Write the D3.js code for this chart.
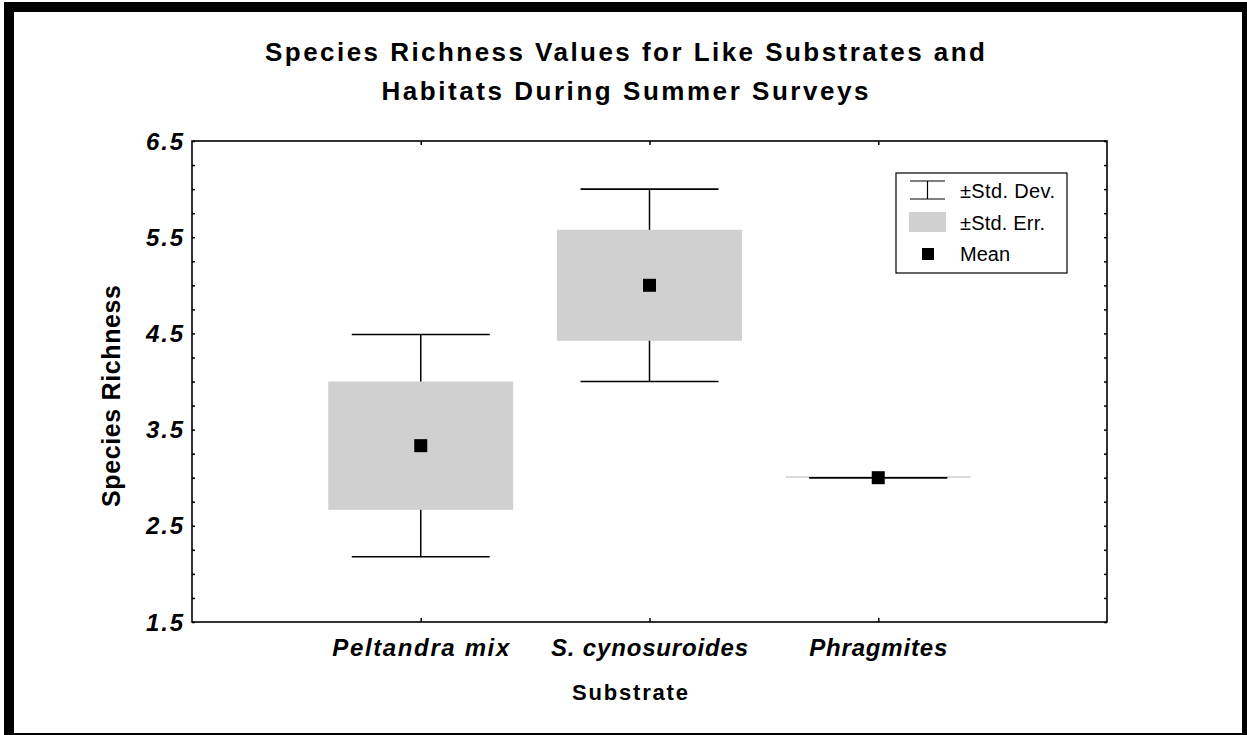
<!DOCTYPE html>
<html>
<head>
<meta charset="utf-8">
<script src="https://cdn.jsdelivr.net/npm/d3@7"></script>
<style>
  html, body { margin: 0; padding: 0; background: white; }
  svg { display: block; font-family: "Liberation Sans", Arial, sans-serif; }
</style>
</head>
<body>
<div id="chart"></div>
<script>
const categories = ["Peltandra mix", "S. cynosuroides", "Phragmites"];
const means = [3.333, 5.0, 3.0];
const stdErrs = [0.667, 0.577, 0];
const stdDevs = [1.155, 1.0, 0];
const yTickLabels = [1.5, 2.5, 3.5, 4.5, 5.5, 6.5];
const yMinorTicks = d3.range(1.5, 6.51, 0.25);
const titleLines = ["Species Richness Values for Like Substrates and", "Habitats During Summer Surveys"];
const legendItems = ["\u00b1Std. Dev.", "\u00b1Std. Err.", "Mean"];

const width = 1247;
const height = 735;
const plot = { left: 192, right: 1107, top: 141, bottom: 622 };
const boxWidth = 185;
const capWidth = 138;
const markSize = 13;
const grey = "#d0d0d0";

const rows = categories.map((c, i) => ({
  category: c, mean: means[i], se: stdErrs[i], sd: stdDevs[i]
}));

const x = d3.scalePoint(categories, [plot.left, plot.right]).padding(1);
const y = d3.scaleLinear([1.5, 6.5], [plot.bottom, plot.top]);

const svg = d3.select("#chart").append("svg")
  .attr("width", width)
  .attr("height", height);

// page frame with heavy black edge
const frame = selection => {
  selection.append("rect")
    .attr("x", 4).attr("y", 2)
    .attr("width", width - 4).attr("height", height - 2)
    .attr("fill", "black");
  selection.append("rect")
    .attr("x", 14).attr("y", 12)
    .attr("width", 1228).attr("height", 721)
    .attr("fill", "white");
}

const title = selection => {
  selection.selectAll(".title")
    .data(titleLines)
    .join("text")
    .attr("class", "title")
    .attr("x", 625)
    .attr("y", (d, i) => 61 + i * 39)
    .attr("text-anchor", "middle")
    .attr("font-size", 26)
    .attr("font-weight", "bold")
    .attr("textLength", (d, i) => [720, 487][i])
    .attr("lengthAdjust", "spacing")
    .text(d => d);
}

const boxes = selection => {
  let g = selection.selectAll(".box")
    .data(rows)
    .join("g")
    .attr("class", "box")
    .attr("transform", d => `translate(${x(d.category)},0)`);
  // standard deviation whiskers
  g.append("line")
    .attr("x1", 0).attr("x2", 0)
    .attr("y1", d => y(d.mean + d.sd))
    .attr("y2", d => y(d.mean - d.sd))
    .attr("stroke", "black").attr("stroke-width", 1.5);
  // standard error box, kept visible as a thin bar when se is 0
  g.append("rect")
    .attr("x", -boxWidth / 2)
    .attr("width", boxWidth)
    .attr("y", d => Math.min(y(d.mean + d.se), y(d.mean) - 1.5))
    .attr("height", d => Math.max(1.5, y(d.mean - d.se) - y(d.mean + d.se)))
    .attr("fill", grey);
  g.selectAll(".cap")
    .data(d => [d.mean + d.sd, d.mean - d.sd])
    .join("line")
    .attr("class", "cap")
    .attr("x1", -capWidth / 2).attr("x2", capWidth / 2)
    .attr("y1", v => y(v)).attr("y2", v => y(v))
    .attr("stroke", "black").attr("stroke-width", 1.6);
  g.append("rect")
    .attr("x", -markSize / 2)
    .attr("y", d => y(d.mean) - markSize / 2)
    .attr("width", markSize)
    .attr("height", markSize)
    .attr("fill", "black");
}

const axes = selection => {
  selection.append("g")
    .attr("transform", `translate(${plot.left},0)`)
    .call(d3.axisLeft(y).tickValues(yMinorTicks).tickSize(-3).tickFormat(""))
    .call(g => g.select(".domain").remove());
  selection.append("g")
    .attr("transform", `translate(${plot.right},0)`)
    .call(d3.axisRight(y).tickValues(yMinorTicks).tickSize(-3).tickFormat(""))
    .call(g => g.select(".domain").remove());
  selection.append("g")
    .attr("transform", `translate(0,${plot.bottom})`)
    .call(d3.axisBottom(x).tickSize(-4).tickFormat(""))
    .call(g => g.select(".domain").remove());
  selection.append("g")
    .attr("transform", `translate(0,${plot.top})`)
    .call(d3.axisTop(x).tickSize(-4).tickFormat(""))
    .call(g => g.select(".domain").remove());
  selection.selectAll(".tick line").attr("stroke-width", 1.5);

  selection.append("rect")
    .attr("x", plot.left).attr("y", plot.top)
    .attr("width", plot.right - plot.left)
    .attr("height", plot.bottom - plot.top)
    .attr("fill", "none")
    .attr("stroke", "black")
    .attr("stroke-width", 1.6);

  selection.selectAll(".y-label")
    .data(yTickLabels)
    .join("text")
    .attr("class", "y-label")
    .attr("x", 183)
    .attr("y", d => y(d) + 8.5)
    .attr("text-anchor", "end")
    .attr("font-size", 24)
    .attr("font-weight", "bold")
    .attr("font-style", "italic")
    .attr("textLength", 37)
    .attr("lengthAdjust", "spacing")
    .text(d3.format(".1f"));

  selection.selectAll(".x-label")
    .data(categories)
    .join("text")
    .attr("class", "x-label")
    .attr("x", d => x(d))
    .attr("y", 656)
    .attr("text-anchor", "middle")
    .attr("font-size", 24)
    .attr("font-weight", "bold")
    .attr("font-style", "italic")
    .attr("textLength", (d, i) => [177, 197, 138][i])
    .attr("lengthAdjust", "spacing")
    .text(d => d);

  selection.append("text")
    .attr("x", 630).attr("y", 700)
    .attr("text-anchor", "middle")
    .attr("font-size", 22)
    .attr("font-weight", "bold")
    .attr("textLength", 116)
    .attr("lengthAdjust", "spacing")
    .text("Substrate");

  selection.append("text")
    .attr("transform", "translate(120,396) rotate(-90)")
    .attr("text-anchor", "middle")
    .attr("font-size", 25)
    .attr("font-weight", "bold")
    .attr("textLength", 222)
    .attr("lengthAdjust", "spacing")
    .text("Species Richness");
}

const legend = selection => {
  let g = selection.append("g").attr("class", "legend");
  g.append("rect")
    .attr("x", 896).attr("y", 173)
    .attr("width", 171).attr("height", 100)
    .attr("fill", "white")
    .attr("stroke", "black")
    .attr("stroke-width", 1.2);
  // std dev symbol
  g.selectAll(".lg-cap")
    .data([181, 199])
    .join("line")
    .attr("class", "lg-cap")
    .attr("x1", 910).attr("x2", 945)
    .attr("y1", d => d).attr("y2", d => d)
    .attr("stroke", "black").attr("stroke-width", 1.2);
  g.append("line")
    .attr("x1", 927.5).attr("x2", 927.5)
    .attr("y1", 181).attr("y2", 199)
    .attr("stroke", "black").attr("stroke-width", 1.2);
  g.append("rect")
    .attr("x", 909).attr("y", 212)
    .attr("width", 37).attr("height", 20)
    .attr("fill", grey);
  g.append("rect")
    .attr("x", 922).attr("y", 248)
    .attr("width", 12).attr("height", 12)
    .attr("fill", "black");
  g.selectAll(".lg-text")
    .data(legendItems)
    .join("text")
    .attr("class", "lg-text")
    .attr("x", 960)
    .attr("y", (d, i) => 198 + i * 31.5)
    .attr("font-size", 20)
    .attr("textLength", (d, i) => [95, 85, 50][i])
    .attr("lengthAdjust", "spacing")
    .text(d => d);
}

svg
  .call(frame)
  .call(title)
  .call(boxes)
  .call(axes)
  .call(legend);
</script>
</body>
</html>
